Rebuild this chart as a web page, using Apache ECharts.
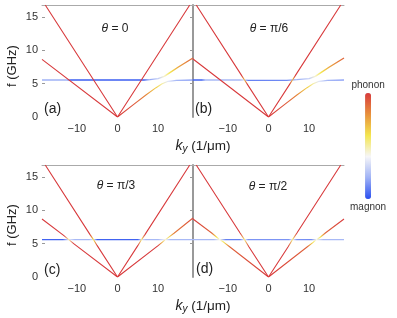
<!DOCTYPE html>
<html><head><meta charset="utf-8">
<script src="https://cdn.jsdelivr.net/npm/echarts@6/dist/echarts.min.js"></script>
<style>html,body{margin:0;padding:0;background:#fff}#c{width:397px;height:318px}</style>
</head><body><div id="c"></div>
<script>
// ---- tick labels / texts ----
const xTicks = [-10, 0, 10];
const yTicks = [0, 5, 10, 15];
const yTickMarks = [5, 10, 15];
const panelTitles = ['0', 'π/6', 'π/3', 'π/2'];
const panelLetters = ['(a)', '(b)', '(c)', '(d)'];
const colorbarLabels = ['phonon', 'magnon'];
// colour scale: weight 0 (magnon) -> 1 (phonon)
const weightColors = ['#2a4ff0', '#9fb2f6', '#f6f6f8', '#f4e64e', '#e8903c', '#d83a3c'];

// ---- data: [k_y (1/um), f (GHz), phonon weight] ----
// (a) theta = 0
const aSteep   = [[-17.8,16.8,1],[0,0,1],[17.8,16.8,1]];
const aShallow = [[-18.6,8.65,1],[0,0,1],[4,1.9,0.93],[7,3.3,0.82],[9.5,4.4,0.65],[11,5.0,0.5],[12.5,5.35,0.35],[14.5,5.5,0.22],[18.6,5.55,0.08]];
const aMagnon  = [[-18.6,5.55,0.2],[-12.5,5.55,0.2],[-11.5,5.55,0.03],[6.5,5.55,0.03],[8,5.6,0.18],[10,5.75,0.28],[11.5,6.1,0.45],[13,6.7,0.6],[15,7.5,0.75],[18.6,8.85,0.9]];
// (b) theta = pi/6
const bSteep   = [[-17.8,16.8,1],[-6.6,6.2,1],[-5.9,5.55,0.7],[-5.2,4.9,1],[0,0,1],[5.2,4.9,1],[5.9,5.55,0.7],[6.6,6.2,1],[17.8,16.8,1]];
const bShallow = [[-18.6,8.7,1],[0,0,1],[4,1.9,0.93],[7,3.3,0.82],[9.5,4.4,0.65],[11,5.0,0.5],[12.5,5.35,0.35],[14.5,5.5,0.22],[18.6,5.55,0.08]];
const bMagnon  = [[-18.6,5.55,0.04],[-16.5,5.55,0.04],[-15.5,5.55,0.22],[-7,5.55,0.22],[-6,5.55,0.35],[-5,5.5,0.1],[4.5,5.5,0.12],[7,5.6,0.2],[10,5.75,0.28],[11.5,6.1,0.45],[13,6.7,0.6],[15,7.5,0.75],[18.6,8.85,0.9]];
// (c) theta = pi/3
const cSteep   = [[-17.8,16.8,1],[-6.8,6.4,1],[-5.9,5.6,0.6],[-5,4.7,1],[0,0,1],[5,4.7,1],[5.9,5.6,0.55],[6.8,6.4,1],[17.8,16.8,1]];
const cShallow = [[-18.6,8.7,1],[-13.2,6.2,1],[-12,5.6,0.5],[-10.8,5.0,1],[0,0,1],[10,4.7,1],[11,5.2,0.7],[11.8,5.6,0.45],[12.8,6.05,0.65],[14,6.6,0.85],[18.6,8.85,0.95]];
const cMagnon  = [[-18.6,5.6,0.04],[-13.5,5.6,0.04],[-12,5.6,0.35],[-10.5,5.6,0.22],[-7,5.6,0.22],[-5.9,5.6,0.35],[-5,5.6,0.04],[5,5.6,0.04],[5.9,5.6,0.35],[7,5.6,0.22],[10,5.6,0.22],[11.8,5.6,0.4],[13,5.6,0.22],[18.6,5.6,0.22]];
// (d) theta = pi/2
const dSteep   = [[-17.8,16.8,1],[-7,6.6,1],[-5.9,5.6,0.55],[-4.8,4.5,1],[0,0,1],[4.8,4.5,1],[5.9,5.6,0.55],[7,6.6,1],[17.8,16.8,1]];
const dShallow = [[-18.6,8.7,1],[-14,6.6,0.9],[-12.8,6.0,0.6],[-12,5.6,0.4],[-11,5.2,0.6],[-9.5,4.5,0.9],[0,0,1],[9.5,4.5,0.9],[11,5.2,0.6],[11.8,5.6,0.4],[12.8,6.0,0.6],[14,6.6,0.9],[18.6,8.7,1]];
const dMagnon  = [[-18.6,5.6,0.22],[-13.5,5.6,0.22],[-12,5.6,0.42],[-10.5,5.6,0.1],[-7,5.6,0.1],[-5.9,5.6,0.4],[-5,5.6,0.14],[5,5.6,0.14],[5.9,5.6,0.4],[7,5.6,0.14],[10.5,5.6,0.12],[11.8,5.6,0.42],[13.5,5.6,0.22],[18.6,5.6,0.22]];

const panels = [
  {magnon:aMagnon, shallow:aShallow, steep:aSteep},
  {magnon:bMagnon, shallow:bShallow, steep:bSteep},
  {magnon:cMagnon, shallow:cShallow, steep:cSteep},
  {magnon:dMagnon, shallow:dShallow, steep:dSteep}
];

// ---- layout ----
const FONT = 'Liberation Sans, Arial, sans-serif';
const grids = [
  {left:42, top:5, width:151, height:112},
  {left:193, top:5, width:151, height:112},
  {left:42, top:165, width:151, height:112},
  {left:193, top:165, width:151, height:112}
];
const X_MIN = -18.6, X_MAX = 18.6, Y_MIN = 0, Y_MAX = 16.8;

function hexToRgb(h){return [parseInt(h.slice(1,3),16),parseInt(h.slice(3,5),16),parseInt(h.slice(5,7),16)];}
function colorFor(w){
  const n = weightColors.length - 1;
  const t = Math.max(0, Math.min(1, w)) * n;
  const i = Math.min(n - 1, Math.floor(t));
  const f = t - i;
  const a = hexToRgb(weightColors[i]), b = hexToRgb(weightColors[i+1]);
  const c = a.map((v,j)=>Math.round(v + (b[j]-v)*f));
  return 'rgb(' + c.join(',') + ')';
}

const xAxes = [], yAxes = [], series = [], seriesMeta = [];
grids.forEach((g, i) => {
  const leftCol = (i % 2 === 0);
  xAxes.push({
    type:'value', gridIndex:i, min:X_MIN, max:X_MAX, position:'bottom',
    axisLine:{show:false, onZero:false}, axisTick:{show:false}, splitLine:{show:false},
    axisLabel:{customValues:xTicks, margin:6, fontSize:11, color:'#333', fontFamily:FONT,
      formatter:v=>String(v).replace('-', '\u2212')}
  });
  xAxes.push({
    type:'value', gridIndex:i, min:X_MIN, max:X_MAX, position:'top',
    axisLine:{show:true, onZero:false, lineStyle:{color:'#aaa', width:1}},
    axisTick:{show:false}, axisLabel:{show:false}, splitLine:{show:false}
  });
  yAxes.push({
    type:'value', gridIndex:i, min:Y_MIN, max:Y_MAX, position:'left',
    axisLine:{show:false, onZero:false}, splitLine:{show:false},
    axisTick:{show:leftCol, inside:true, length:3, customValues:yTickMarks, lineStyle:{color:'#999'}},
    axisLabel:{show:leftCol, customValues:yTicks, margin:4, fontSize:11, color:'#333', fontFamily:FONT}
  });
  yAxes.push({
    type:'value', gridIndex:i, min:Y_MIN, max:Y_MAX, position:'right',
    axisLine:{show:leftCol, onZero:false, lineStyle:{color:'#999', width:2}},
    axisTick:{show:leftCol, inside:true, length:3, customValues:yTickMarks, lineStyle:{color:'#999'}},
    axisLabel:{show:false}, splitLine:{show:false}
  });
  const p = panels[i];
  [['magnon',1.4],['shallow',1.1],['steep',1.1]].forEach(([key, lw]) => {
    series.push({
      type:'line', xAxisIndex:2*i, yAxisIndex:2*i,
      data:p[key].map(q=>[q[0], q[1]]),
      symbol:'none', showSymbol:false, silent:true, animation:false,
      lineStyle:{width:lw, color:'#d83a3c'}
    });
    seriesMeta.push({arr:p[key], xAxisIndex:2*i});
  });
});

const graphics = [];
const titlePos = [[115,29],[269,29],[116,186],[268,187]];
const letterPos = [[44,109],[195,109],[44,270],[196,269]];
panelTitles.forEach((t,i)=>{
  graphics.push({type:'text', x:titlePos[i][0], y:titlePos[i][1], silent:true,
    style:{text:'{i|θ} = ' + t, align:'center', verticalAlign:'middle', fontSize:12, fill:'#222', fontFamily:FONT,
      rich:{i:{fontStyle:'italic', fontSize:12, fontFamily:FONT, fill:'#222'}}}});
  graphics.push({type:'text', x:letterPos[i][0], y:letterPos[i][1], silent:true,
    style:{text:panelLetters[i], align:'left', verticalAlign:'middle', fontSize:14, fill:'#222', fontFamily:FONT}});
});
[[203,146],[203,306]].forEach(([x,y])=>{
  graphics.push({type:'text', x:x, y:y, silent:true,
    style:{text:'{i|k}{s|y}{n| (1/μm)}', align:'center', verticalAlign:'middle', fill:'#222', fontFamily:FONT,
      rich:{i:{fontStyle:'italic', fontSize:14, fontFamily:FONT, fill:'#222'},
            s:{fontStyle:'italic', fontSize:10, fontFamily:FONT, fill:'#222', padding:[7,0,0,0]},
            n:{fontSize:13.5, fontFamily:FONT, fill:'#222'}}}});
});
[[12,66],[12,225]].forEach(([x,y])=>{
  graphics.push({type:'text', x:x, y:y, rotation:Math.PI/2, silent:true,
    style:{text:'f (GHz)', align:'center', verticalAlign:'middle', fontSize:13, fill:'#222', fontFamily:FONT}});
});

const chart = echarts.init(document.getElementById('c'), null, {renderer:'canvas'});
chart.setOption({
  animation:false,
  backgroundColor:'#fff',
  grid:grids,
  xAxis:xAxes,
  yAxis:yAxes,
  series:series,
  visualMap:{
    type:'continuous', min:0, max:1, seriesIndex:[], orient:'vertical',
    left:350, top:80, itemWidth:6, itemHeight:106, text:colorbarLabels, textGap:3,
    padding:0, calculable:false, hoverLink:false, realtime:false,
    inRange:{color:weightColors},
    textStyle:{fontSize:10, color:'#333', fontFamily:FONT}
  },
  graphic:graphics
});

// colour each branch by its phonon weight, through the axis scale
const colored = seriesMeta.map(m => {
  const ks = m.arr.map(q=>q[0]);
  const k0 = Math.min.apply(null, ks), k1 = Math.max.apply(null, ks);
  const x0 = chart.convertToPixel({xAxisIndex:m.xAxisIndex}, k0);
  const x1 = chart.convertToPixel({xAxisIndex:m.xAxisIndex}, k1);
  const stops = m.arr.map(q=>({offset:(q[0]-k0)/(k1-k0), color:colorFor(q[2])}));
  return {lineStyle:{color:new echarts.graphic.LinearGradient(x0, 0, x1, 0, stops, true)}};
});
chart.setOption({series:colored});
</script>
</body></html>
